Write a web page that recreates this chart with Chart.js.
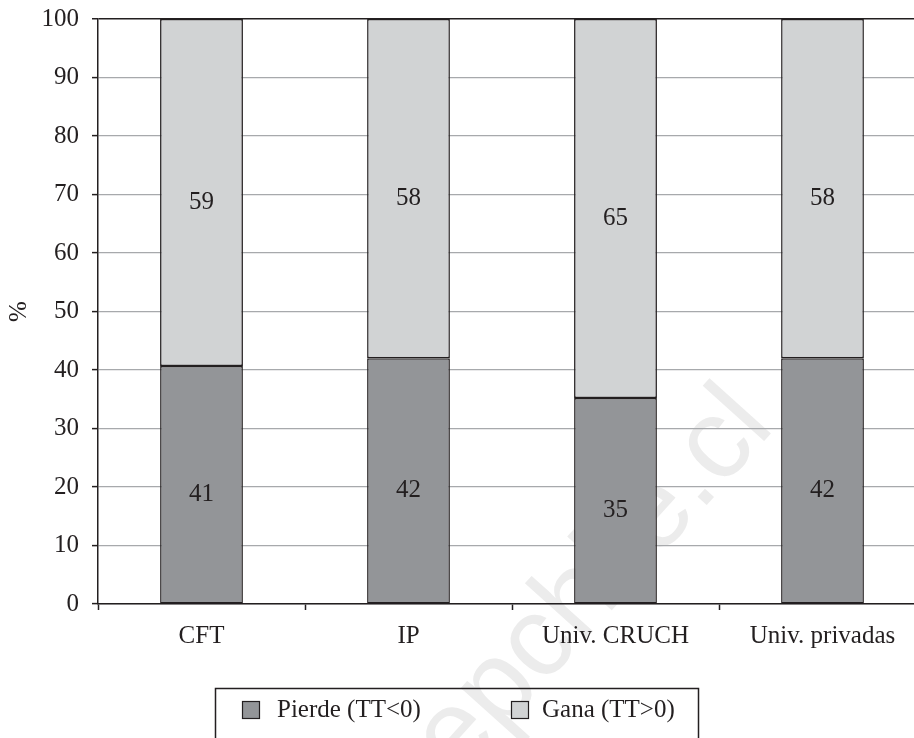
<!DOCTYPE html>
<html>
<head>
<meta charset="utf-8">
<script src="https://cdn.jsdelivr.net/npm/chart.js@4/dist/chart.umd.min.js"></script>
<style>
  html, body { margin: 0; padding: 0; background: #ffffff; overflow: hidden; }
  #wrap { width: 914px; height: 738px; overflow: hidden; position: relative; }
  canvas { display: block; }
</style>
</head>
<body>
<div id="wrap"><canvas id="c" width="926" height="738"></canvas></div>
<script>
// ---- data ----
const categories = ["CFT", "IP", "Univ. CRUCH", "Univ. privadas"];
const pierde = [40.7, 42, 35.2, 42];
const gana = [59.3, 58, 64.8, 58];
const seriesNames = ["Pierde (TT<0)", "Gana (TT>0)"];
const yTicks = [0, 10, 20, 30, 40, 50, 60, 70, 80, 90, 100];
const yTitle = "%";
const watermarkText = "cepchile.cl";

// ---- style ----
const FONT = "'Liberation Serif', 'Times New Roman', serif";
const FS = 25;
const INK = "#231f20";
const DARK = "#939598";
const LIGHT = "#d1d3d4";
const GRID = "#a7a9ac";

const watermarkPlugin = {
  id: "watermark",
  beforeDraw(chart) {
    const ctx = chart.ctx;
    ctx.save();
    ctx.translate(776, 428);
    ctx.rotate(-48 * Math.PI / 180);
    ctx.font = "114px 'Liberation Sans', Arial, sans-serif";
    ctx.fillStyle = "#ececec";
    ctx.textAlign = "right";
    ctx.textBaseline = "alphabetic";
    ctx.fillText(watermarkText, 0, 0);
    ctx.restore();
  }
};

const valueLabels = {
  id: "valueLabels",
  afterDatasetsDraw(chart) {
    const ctx = chart.ctx;
    ctx.save();
    ctx.font = FS + "px " + FONT;
    ctx.fillStyle = INK;
    ctx.textAlign = "center";
    ctx.textBaseline = "middle";
    chart.data.datasets.forEach((ds, di) => {
      const meta = chart.getDatasetMeta(di);
      meta.data.forEach((el, i) => {
        const v = ds.data[i];
        const yc = (el.y + el.base) / 2 + 10;
        ctx.fillText(String(Math.round(v)), el.x, yc);
      });
    });
    ctx.restore();
  }
};

const boxedLegend = {
  id: "boxedLegend",
  afterDraw(chart) {
    const ctx = chart.ctx;
    ctx.save();
    ctx.strokeStyle = INK;
    ctx.lineWidth = 1.5;
    ctx.strokeRect(215.5, 688.5, 483, 70);
    const items = [
      { box: 242, text: 277 },
      { box: 511, text: 542 }
    ];
    ctx.font = FS + "px " + FONT;
    ctx.textBaseline = "middle";
    ctx.textAlign = "left";
    chart.data.datasets.forEach((ds, i) => {
      const it = items[i];
      ctx.fillStyle = ds.backgroundColor;
      ctx.fillRect(it.box, 701, 17, 17);
      ctx.lineWidth = 1.2;
      ctx.strokeStyle = INK;
      ctx.strokeRect(it.box + 0.5, 701.5, 17, 17);
      ctx.fillStyle = INK;
      ctx.fillText(ds.label, it.text, 710);
    });
    ctx.restore();
  }
};

new Chart(document.getElementById("c"), {
  type: "bar",
  data: {
    labels: categories,
    datasets: [
      { label: seriesNames[0], data: pierde, backgroundColor: DARK, borderColor: INK, borderWidth: 1.5, borderSkipped: false },
      { label: seriesNames[1], data: gana, backgroundColor: LIGHT, borderColor: INK, borderWidth: 1.5, borderSkipped: false }
    ]
  },
  options: {
    responsive: false,
    animation: false,
    devicePixelRatio: 1,
    layout: { padding: { left: 0, top: 19, right: 0, bottom: 84 } },
    datasets: { bar: { barPercentage: 0.4, categoryPercentage: 1.0 } },
    plugins: {
      legend: { display: false },
      tooltip: { enabled: false }
    },
    scales: {
      x: {
        stacked: true,
        offset: true,
        afterFit(scale) { scale.height = 50; scale.paddingLeft = 0; scale.paddingRight = 0; },
        grid: { offset: true, drawOnChartArea: false, drawTicks: true, tickLength: 6, tickColor: INK, tickWidth: 1.5 },
        border: { display: true, color: INK, width: 1.5 },
        ticks: { color: INK, font: { family: FONT, size: FS }, padding: 11, maxRotation: 0, autoSkip: false }
      },
      y: {
        stacked: true,
        min: 0,
        max: 100,
        afterFit(scale) { scale.width = 98; scale.paddingTop = 0; scale.paddingBottom = 0; },
        afterBuildTicks(scale) { scale.ticks = yTicks.map(v => ({ value: v })); },
        grid: {
          color: (c) => (c.tick && c.tick.value === 100) ? INK : GRID,
          lineWidth: (c) => (c.tick && c.tick.value === 100) ? 1.5 : 1.2,
          tickColor: INK,
          tickLength: 6,
          tickWidth: 1.5
        },
        border: { display: true, color: INK, width: 1.5 },
        ticks: { color: INK, font: { family: FONT, size: FS }, padding: 13 },
        title: { display: true, text: yTitle, color: INK, font: { family: FONT, size: FS }, padding: { top: 4, bottom: 4 } }
      }
    }
  },
  plugins: [watermarkPlugin, valueLabels, boxedLegend]
});
</script>
</body>
</html>
